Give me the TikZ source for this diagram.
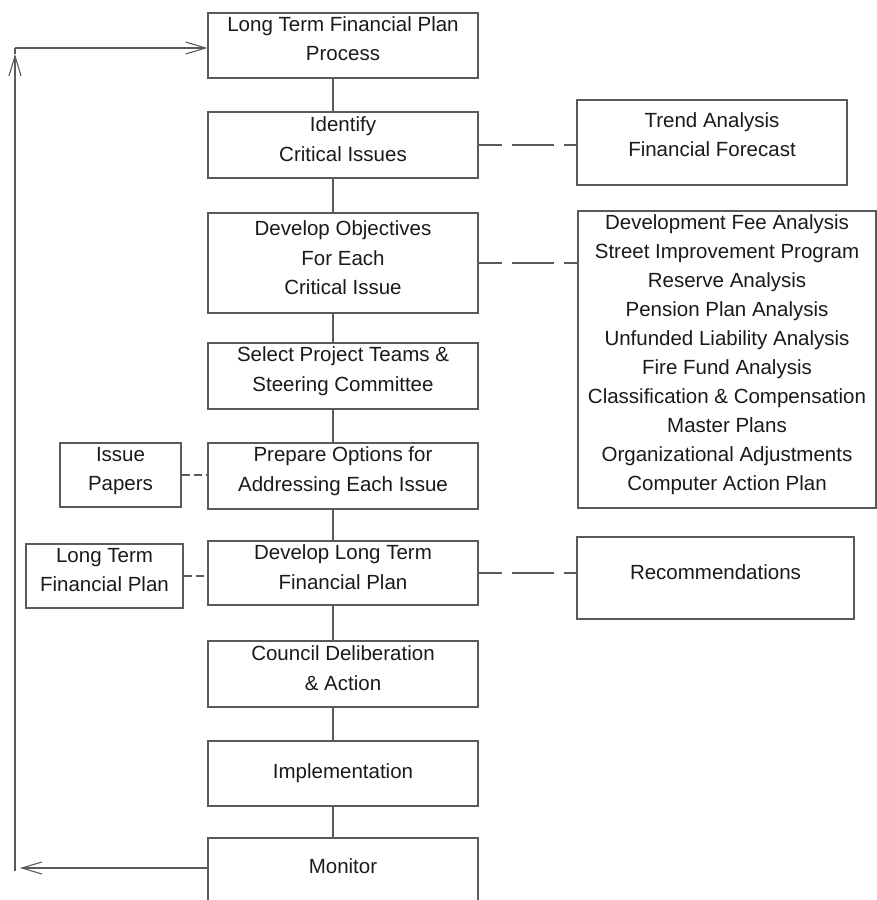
\documentclass[tikz,border=0pt]{standalone}
\usepackage{fontspec}
\setmainfont{Liberation Sans}
\usetikzlibrary{arrows.meta}
\definecolor{ln}{HTML}{5A5A5A}
\definecolor{tx}{HTML}{1A1A1A}
\begin{document}
\begin{tikzpicture}[x=1pt,y=-1pt,
  box/.style={draw=ln, line width=1.1pt, rectangle, inner sep=0pt},
  txt/.style={text=tx, align=center, font=\fontsize{20.5}{29.5}\selectfont, inner sep=0pt},
  conn/.style={draw=ln, line width=1.1pt},
  dconn/.style={conn, dash pattern=on 23pt off 10pt on 42pt off 10pt},
  sdconn/.style={conn, dash pattern=on 8pt off 4pt},
  arr/.style={conn, -{Straight Barb[length=20pt,width=12pt,line width=1.1pt]}}
]
\useasboundingbox (0,0) rectangle (877,900);
\clip (0,0) rectangle (877,900);

% main column
\node[box, minimum width=270pt, minimum height=65pt] (b1) at (343,45.5) {};
\node[txt] (t1) at ([yshift=7pt]b1.center) {Long Term Financial Plan\\Process};
\node[box, minimum width=270pt, minimum height=66pt] (b2) at (343,145) {};
\node[txt] (t2) at ([yshift=6pt]b2.center) {Identify\\Critical Issues};
\node[box, minimum width=270pt, minimum height=100pt] (b3) at (343,263) {};
\node[txt] (t3) at ([yshift=5pt]b3.center) {Develop Objectives\\For Each\\Critical Issue};
\node[box, minimum width=270pt, minimum height=66pt] (b4) at (343,376) {};
\node[txt] (t4) at ([yshift=5pt]b4.center) {Select Project Teams \&\\Steering Committee};
\node[box, minimum width=270pt, minimum height=66pt] (b5) at (343,476) {};
\node[txt] (t5) at ([yshift=5pt]b5.center) {Prepare Options for\\Addressing Each Issue};
\node[box, minimum width=270pt, minimum height=64pt] (b6) at (343,573) {};
\node[txt] (t6) at ([yshift=6pt]b6.center) {Develop Long Term\\Financial Plan};
\node[box, minimum width=270pt, minimum height=66pt] (b7) at (343,674) {};
\node[txt] (t7) at ([yshift=6pt]b7.center) {Council Deliberation\\\& Action};
\node[box, minimum width=270pt, minimum height=65pt] (b8) at (343,773.5) {};
\node[txt] (t8) at ([yshift=0pt]b8.center) {Implementation};
\node[box, minimum width=270pt, minimum height=68pt] (b9) at (343,872) {};
\node[txt] (t9) at ([yshift=6pt]b9.center) {Monitor};

% right column
\node[box, minimum width=270pt, minimum height=85pt] (r1) at (712,142.5) {};
\node[txt] (tr1) at ([yshift=8pt]r1.center) {Trend Analysis\\Financial Forecast};
\node[box, minimum width=298pt, minimum height=297pt] (r2) at (727,359.5) {};
\node[txt, font=\fontsize{20.5}{29}\selectfont] (tr2) at ([yshift=5pt]r2.center) {Development Fee Analysis\\Street Improvement Program\\Reserve Analysis\\Pension Plan Analysis\\Unfunded Liability Analysis\\Fire Fund Analysis\\Classification \& Compensation\\Master Plans\\Organizational Adjustments\\Computer Action Plan};
\node[box, minimum width=277pt, minimum height=82pt] (r3) at (715.5,578) {};
\node[txt] (tr3) at ([yshift=6pt]r3.center) {Recommendations};

% left column
\node[box, minimum width=121pt, minimum height=64pt] (l1) at (120.5,475) {};
\node[txt] (tl1) at ([yshift=4pt]l1.center) {Issue\\Papers};
\node[box, minimum width=157pt, minimum height=64pt] (l2) at (104.5,576) {};
\node[txt] (tl2) at ([yshift=6pt]l2.center) {Long Term\\Financial Plan};

% vertical connectors
\foreach \a/\b in {b1/b2,b2/b3,b3/b4,b4/b5,b5/b6,b6/b7,b7/b8,b8/b9}
  \draw[conn] ([xshift=-10pt]\a.south) -- ([xshift=-10pt]\b.north);

% dashed side connectors
\draw[dconn] (b2.east) -- (b2.east -| r1.west);
\draw[dconn] (b3.east) -- (b3.east -| r2.west);
\draw[dconn] (b6.east) -- (b6.east -| r3.west);
\draw[sdconn] (l1.east) -- (l1.east -| b5.west);
\draw[sdconn] (l2.east) -- (l2.east -| b6.west);

% feedback loop
\coordinate (tl) at (15,48);
\coordinate (tu) at (15,54);
\coordinate (bl) at (15,871);
\coordinate (be) at (20,868);
\draw[arr] (bl) -- (tu);
\draw[conn] (tu) -- (tl);
\draw[arr] (tl) -- (b1.west |- tl);
\draw[arr] (b9.west |- be) -- (be);
\end{tikzpicture}
\end{document}
